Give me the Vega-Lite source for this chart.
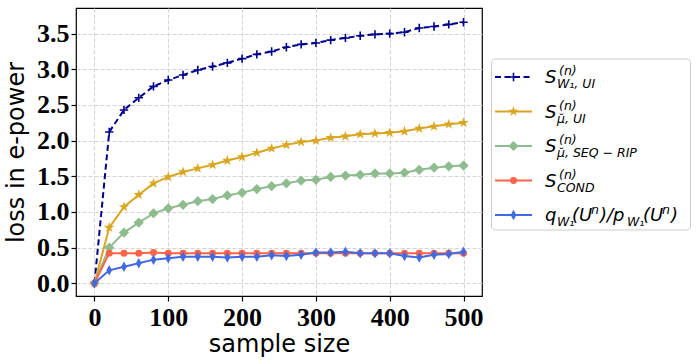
{
  "$schema": "https://vega.github.io/schema/vega-lite/v6.json",
  "background": "white",
  "padding": {"left": 3, "top": 7, "right": 0, "bottom": 0},
  "spacing": 7,
  "config": {
    "view": {"stroke": null},
    "axis": {
      "labelFont": "Liberation Serif", "labelFontWeight": "bold", "labelFontSize": 26, "labelColor": "black",
      "titleFont": "DejaVu Sans", "titleFontWeight": "normal", "titleFontSize": 24, "titleColor": "black",
      "domain": false, "tickColor": "black", "tickWidth": 1.2, "tickSize": 5,
      "gridColor": "#d4d4d4", "gridDash": [4, 2], "gridWidth": 1
    }
  },
  "datasets": {
    "main": [
      {"n": 0, "W1UI": 0, "muUI": 0, "muSEQ": 0, "COND": 0, "qp": 0},
      {"n": 20, "W1UI": 2.12, "muUI": 0.78, "muSEQ": 0.50, "COND": 0.42, "qp": 0.18},
      {"n": 40, "W1UI": 2.43, "muUI": 1.07, "muSEQ": 0.71, "COND": 0.42, "qp": 0.23},
      {"n": 60, "W1UI": 2.60, "muUI": 1.24, "muSEQ": 0.85, "COND": 0.42, "qp": 0.28},
      {"n": 80, "W1UI": 2.76, "muUI": 1.40, "muSEQ": 0.98, "COND": 0.43, "qp": 0.33},
      {"n": 100, "W1UI": 2.85, "muUI": 1.49, "muSEQ": 1.05, "COND": 0.42, "qp": 0.35},
      {"n": 120, "W1UI": 2.92, "muUI": 1.56, "muSEQ": 1.10, "COND": 0.42, "qp": 0.37},
      {"n": 140, "W1UI": 2.99, "muUI": 1.61, "muSEQ": 1.15, "COND": 0.42, "qp": 0.37},
      {"n": 160, "W1UI": 3.04, "muUI": 1.66, "muSEQ": 1.18, "COND": 0.42, "qp": 0.37},
      {"n": 180, "W1UI": 3.09, "muUI": 1.72, "muSEQ": 1.23, "COND": 0.42, "qp": 0.36},
      {"n": 200, "W1UI": 3.15, "muUI": 1.77, "muSEQ": 1.27, "COND": 0.42, "qp": 0.37},
      {"n": 220, "W1UI": 3.21, "muUI": 1.83, "muSEQ": 1.32, "COND": 0.42, "qp": 0.37},
      {"n": 240, "W1UI": 3.25, "muUI": 1.89, "muSEQ": 1.36, "COND": 0.42, "qp": 0.39},
      {"n": 260, "W1UI": 3.31, "muUI": 1.94, "muSEQ": 1.40, "COND": 0.42, "qp": 0.38},
      {"n": 280, "W1UI": 3.35, "muUI": 1.98, "muSEQ": 1.44, "COND": 0.42, "qp": 0.40},
      {"n": 300, "W1UI": 3.37, "muUI": 2.00, "muSEQ": 1.45, "COND": 0.42, "qp": 0.43},
      {"n": 320, "W1UI": 3.41, "muUI": 2.04, "muSEQ": 1.49, "COND": 0.42, "qp": 0.43},
      {"n": 340, "W1UI": 3.44, "muUI": 2.06, "muSEQ": 1.51, "COND": 0.42, "qp": 0.44},
      {"n": 360, "W1UI": 3.47, "muUI": 2.09, "muSEQ": 1.52, "COND": 0.42, "qp": 0.42},
      {"n": 380, "W1UI": 3.49, "muUI": 2.10, "muSEQ": 1.54, "COND": 0.42, "qp": 0.42},
      {"n": 400, "W1UI": 3.50, "muUI": 2.11, "muSEQ": 1.54, "COND": 0.42, "qp": 0.42},
      {"n": 420, "W1UI": 3.52, "muUI": 2.13, "muSEQ": 1.55, "COND": 0.42, "qp": 0.38},
      {"n": 440, "W1UI": 3.58, "muUI": 2.17, "muSEQ": 1.59, "COND": 0.42, "qp": 0.36},
      {"n": 460, "W1UI": 3.60, "muUI": 2.20, "muSEQ": 1.62, "COND": 0.42, "qp": 0.40},
      {"n": 480, "W1UI": 3.63, "muUI": 2.23, "muSEQ": 1.64, "COND": 0.42, "qp": 0.41},
      {"n": 500, "W1UI": 3.66, "muUI": 2.25, "muSEQ": 1.65, "COND": 0.42, "qp": 0.44}
    ],
    "leg": [
      {"series": "W1UI", "main": "S", "sup": "(n)", "sub": "W₁, UI", "a1": "", "s1": "", "b1": "", "sub2": "", "a2": "", "s2": "", "b2": ""},
      {"series": "muUI", "main": "S", "sup": "(n)", "sub": "μ̆, UI", "a1": "", "s1": "", "b1": "", "sub2": "", "a2": "", "s2": "", "b2": ""},
      {"series": "muSEQ", "main": "S", "sup": "(n)", "sub": "μ̆, SEQ − RIP", "a1": "", "s1": "", "b1": "", "sub2": "", "a2": "", "s2": "", "b2": ""},
      {"series": "COND", "main": "S", "sup": "(n)", "sub": "COND", "a1": "", "s1": "", "b1": "", "sub2": "", "a2": "", "s2": "", "b2": ""},
      {"series": "qp", "main": "q", "sup": "", "sub": "W₁", "a1": "(U", "s1": "n", "b1": ")/p", "sub2": "W₁", "a2": "(U", "s2": "n", "b2": ")"}
    ]
  },
  "hconcat": [
    {
      "width": 406,
      "height": 288,
      "view": {"stroke": "black", "strokeWidth": 1.2},
      "data": {"name": "main"},
      "encoding": {
        "x": {"field": "n", "type": "quantitative", "title": "sample size",
              "scale": {"domain": [-25, 525], "nice": false, "zero": false},
              "axis": {"values": [0, 100, 200, 300, 400, 500], "labelPadding": 3, "titlePadding": 2}}
      },
      "layer": [
        {
          "mark": {"type": "line", "strokeWidth": 2, "color": "#00008B", "strokeDash": [6, 3.5]},
          "encoding": {"y": {"field": "W1UI", "type": "quantitative", "title": "loss in e-power",
              "scale": {"domain": [-0.18, 3.86], "nice": false, "zero": false},
              "axis": {"values": [0, 0.5, 1, 1.5, 2, 2.5, 3, 3.5], "format": ".1f", "labelPadding": 2, "titlePadding": 8}}}
        },
        {
          "mark": {"type": "point", "shape": "M-1,0H1M0,-1V1", "size": 70, "strokeWidth": 1.6, "color": "#00008B", "filled": false, "opacity": 1},
          "encoding": {"y": {"field": "W1UI", "type": "quantitative"}}
        },
        {
          "mark": {"type": "line", "strokeWidth": 2, "color": "#DAA520"},
          "encoding": {"y": {"field": "muUI", "type": "quantitative"}}
        },
        {
          "mark": {"type": "point", "shape": "M0,-1L0.225,-0.309L0.951,-0.309L0.363,0.118L0.588,0.809L0,0.382L-0.588,0.809L-0.363,0.118L-0.951,-0.309L-0.225,-0.309Z", "size": 120, "color": "#DAA520", "filled": true, "opacity": 1},
          "encoding": {"y": {"field": "muUI", "type": "quantitative"}}
        },
        {
          "mark": {"type": "line", "strokeWidth": 2, "color": "#8FBC8F"},
          "encoding": {"y": {"field": "muSEQ", "type": "quantitative"}}
        },
        {
          "mark": {"type": "point", "shape": "diamond", "size": 105, "color": "#8FBC8F", "filled": true, "opacity": 1},
          "encoding": {"y": {"field": "muSEQ", "type": "quantitative"}}
        },
        {
          "mark": {"type": "line", "strokeWidth": 2, "color": "#FF6347"},
          "encoding": {"y": {"field": "COND", "type": "quantitative"}}
        },
        {
          "mark": {"type": "point", "shape": "circle", "size": 48, "color": "#FF6347", "filled": true, "opacity": 1},
          "encoding": {"y": {"field": "COND", "type": "quantitative"}}
        },
        {
          "mark": {"type": "line", "strokeWidth": 2, "color": "#4169E1"},
          "encoding": {"y": {"field": "qp", "type": "quantitative"}}
        },
        {
          "mark": {"type": "point", "shape": "M0,-1L0.55,0L0,1L-0.55,0Z", "size": 110, "color": "#4169E1", "filled": true, "opacity": 1},
          "encoding": {"y": {"field": "qp", "type": "quantitative"}}
        }
      ]
    },
    {
      "width": 200,
      "height": 207,
      "data": {"name": "leg"},
      "encoding": {
        "y": {"field": "series", "type": "ordinal", "axis": null,
              "scale": {"type": "point", "domain": ["W1UI", "muUI", "muSEQ", "COND", "qp"], "padding": 1, "align": 1}}
      },
      "layer": [
        {
          "transform": [{"filter": "datum.series === 'W1UI'"}],
          "mark": {"type": "rect", "fill": "white", "stroke": "#cccccc", "strokeWidth": 1, "cornerRadius": 4, "xOffset": 0.5, "x2Offset": -0.5, "yOffset": -18, "y2Offset": 15},
          "encoding": {
            "x": {"datum": 0, "type": "quantitative", "scale": {"domain": [0, 100], "nice": false}, "axis": null},
            "x2": {"datum": 100},
            "y": {"datum": "W1UI", "type": "ordinal"},
            "y2": {"datum": "qp"}
          }
        },
        {
          "transform": [{"filter": "datum.series !== 'W1UI'"}],
          "mark": {"type": "rule", "strokeWidth": 2},
          "encoding": {
            "x": {"datum": 2, "type": "quantitative"},
            "x2": {"datum": 20.5},
            "color": {"field": "series", "type": "nominal", "legend": null,
                      "scale": {"domain": ["W1UI", "muUI", "muSEQ", "COND", "qp"], "range": ["#00008B", "#DAA520", "#8FBC8F", "#FF6347", "#4169E1"]}}
          }
        },
        {
          "transform": [{"filter": "datum.series === 'W1UI'"}],
          "mark": {"type": "rule", "strokeWidth": 2, "color": "#00008B", "strokeDash": [6, 3.5]},
          "encoding": {"x": {"datum": 2, "type": "quantitative"}, "x2": {"datum": 20.5}}
        },
        {
          "transform": [{"filter": "datum.series === 'W1UI'"}],
          "mark": {"type": "point", "shape": "M-1,0H1M0,-1V1", "size": 70, "strokeWidth": 1.6, "color": "#00008B", "filled": false, "opacity": 1},
          "encoding": {"x": {"datum": 11.25, "type": "quantitative"}}
        },
        {
          "transform": [{"filter": "datum.series === 'muUI'"}],
          "mark": {"type": "point", "shape": "M0,-1L0.225,-0.309L0.951,-0.309L0.363,0.118L0.588,0.809L0,0.382L-0.588,0.809L-0.363,0.118L-0.951,-0.309L-0.225,-0.309Z", "size": 120, "color": "#DAA520", "filled": true, "opacity": 1},
          "encoding": {"x": {"datum": 11.25, "type": "quantitative"}}
        },
        {
          "transform": [{"filter": "datum.series === 'muSEQ'"}],
          "mark": {"type": "point", "shape": "diamond", "size": 105, "color": "#8FBC8F", "filled": true, "opacity": 1},
          "encoding": {"x": {"datum": 11.25, "type": "quantitative"}}
        },
        {
          "transform": [{"filter": "datum.series === 'COND'"}],
          "mark": {"type": "point", "shape": "circle", "size": 48, "color": "#FF6347", "filled": true, "opacity": 1},
          "encoding": {"x": {"datum": 11.25, "type": "quantitative"}}
        },
        {
          "transform": [{"filter": "datum.series === 'qp'"}],
          "mark": {"type": "point", "shape": "M0,-1L0.55,0L0,1L-0.55,0Z", "size": 110, "color": "#4169E1", "filled": true, "opacity": 1},
          "encoding": {"x": {"datum": 11.25, "type": "quantitative"}}
        },
        {
          "mark": {"type": "text", "align": "left", "baseline": "middle", "font": "DejaVu Sans", "fontStyle": "italic", "fontSize": 18, "dy": 1, "color": "black"},
          "encoding": {"x": {"datum": 27, "type": "quantitative"}, "text": {"field": "main"}}
        },
        {
          "mark": {"type": "text", "align": "left", "baseline": "middle", "font": "DejaVu Sans", "fontStyle": "italic", "fontSize": 12.5, "dx": 14, "dy": -6, "color": "black"},
          "encoding": {"x": {"datum": 27, "type": "quantitative"}, "text": {"field": "sup"}}
        },
        {
          "mark": {"type": "text", "align": "left", "baseline": "middle", "font": "DejaVu Sans", "fontStyle": "italic", "fontSize": 12.5, "dx": 12, "dy": 7, "color": "black"},
          "encoding": {"x": {"datum": 27, "type": "quantitative"}, "text": {"field": "sub"}}
        },
        {
          "mark": {"type": "text", "align": "left", "baseline": "middle", "font": "DejaVu Sans", "fontStyle": "italic", "fontSize": 18, "dx": 27, "dy": 1, "color": "black"},
          "encoding": {"x": {"datum": 27, "type": "quantitative"}, "text": {"field": "a1"}}
        },
        {
          "mark": {"type": "text", "align": "left", "baseline": "middle", "font": "DejaVu Sans", "fontStyle": "italic", "fontSize": 12.5, "dx": 46, "dy": -5, "color": "black"},
          "encoding": {"x": {"datum": 27, "type": "quantitative"}, "text": {"field": "s1"}}
        },
        {
          "mark": {"type": "text", "align": "left", "baseline": "middle", "font": "DejaVu Sans", "fontStyle": "italic", "fontSize": 18, "dx": 55, "dy": 1, "color": "black"},
          "encoding": {"x": {"datum": 27, "type": "quantitative"}, "text": {"field": "b1"}}
        },
        {
          "mark": {"type": "text", "align": "left", "baseline": "middle", "font": "DejaVu Sans", "fontStyle": "italic", "fontSize": 12.5, "dx": 82, "dy": 7, "color": "black"},
          "encoding": {"x": {"datum": 27, "type": "quantitative"}, "text": {"field": "sub2"}}
        },
        {
          "mark": {"type": "text", "align": "left", "baseline": "middle", "font": "DejaVu Sans", "fontStyle": "italic", "fontSize": 18, "dx": 98, "dy": 1, "color": "black"},
          "encoding": {"x": {"datum": 27, "type": "quantitative"}, "text": {"field": "a2"}}
        },
        {
          "mark": {"type": "text", "align": "left", "baseline": "middle", "font": "DejaVu Sans", "fontStyle": "italic", "fontSize": 12.5, "dx": 117, "dy": -5, "color": "black"},
          "encoding": {"x": {"datum": 27, "type": "quantitative"}, "text": {"field": "s2"}}
        },
        {
          "mark": {"type": "text", "align": "left", "baseline": "middle", "font": "DejaVu Sans", "fontStyle": "italic", "fontSize": 18, "dx": 126, "dy": 1, "color": "black"},
          "encoding": {"x": {"datum": 27, "type": "quantitative"}, "text": {"field": "b2"}}
        }
      ]
    }
  ]
}
